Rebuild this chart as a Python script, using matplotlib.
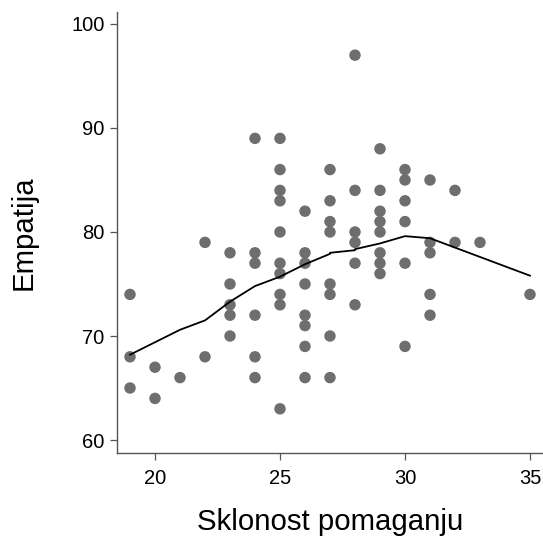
import matplotlib
matplotlib.use("Agg")
import matplotlib.pyplot as plt

plt.rcParams['font.family'] = ['Liberation Sans', 'DejaVu Sans']

# Scatter data: helping tendency (x) vs empathy (y)
x_vals = ([19]*3 + [20]*2 + [21] + [22]*2 + [23]*5 + [24]*6 + [25]*10 + [26]*8 +
          [27]*8 + [28]*6 + [29]*8 + [30]*6 + [31]*5 + [32]*2 + [33] + [35])
y_vals = ([74, 68, 65] + [67, 64] + [66] + [79, 68] + [78, 75, 73, 72, 70] +
          [89, 78, 77, 72, 68, 66] + [89, 86, 84, 83, 80, 77, 76, 74, 73, 63] +
          [82, 78, 77, 75, 72, 71, 69, 66] + [86, 83, 81, 80, 75, 74, 70, 66] +
          [97, 84, 80, 79, 77, 73] + [88, 84, 82, 81, 80, 78, 77, 76] +
          [86, 85, 83, 81, 77, 69] + [85, 79, 78, 74, 72] + [84, 79] + [79] + [74])

# Smoothed (loess) line
line_x = [19, 20, 21, 22, 23, 24, 25, 26, 27, 27, 28, 28, 29, 30, 31, 32, 33, 35]
line_y = [68.2, 69.4, 70.6, 71.5, 73.3, 74.8, 75.7, 76.9, 77.9, 78.0, 78.25, 78.35, 78.9, 79.6, 79.4, 78.5, 77.6, 75.8]

xticks = [20, 25, 30, 35]
yticks = [60, 70, 80, 90, 100]

fig = plt.figure(figsize=(5.43, 5.37), dpi=100)
ax = fig.add_axes([117/543, 1 - 452.5/537, 1 - 117/543, (452.5 - 12)/537])

ax.scatter(x_vals, y_vals, s=68, color='#6e6e6e', edgecolors='none', zorder=2)
ax.plot(line_x, line_y, color='black', lw=1.3, zorder=3)

ax.set_xlim(18.48, 35.52)
ax.set_ylim(58.8, 101.15)
ax.set_xticks(xticks)
ax.set_yticks(yticks)
ax.tick_params(labelsize=14.5, length=5, width=0.9, color='#555555')
ax.tick_params(axis='x', pad=7)
ax.tick_params(axis='y', pad=4)
for side in ['top', 'right']:
    ax.spines[side].set_visible(False)
for side in ['left', 'bottom']:
    ax.spines[side].set_color('#555555')
    ax.spines[side].set_linewidth(1.0)

ax.set_xlabel('Sklonost pomaganju', fontsize=21.2, labelpad=14)
ax.set_ylabel('Empatija', fontsize=21.2, labelpad=24)

fig.savefig('out.png', dpi=100)
